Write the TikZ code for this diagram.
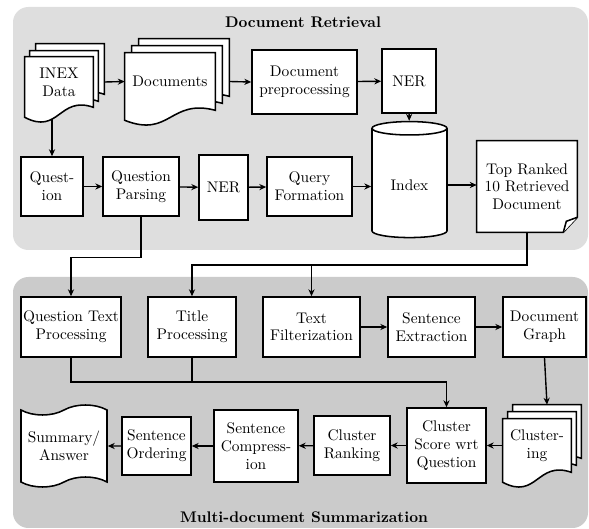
\documentclass[tikz,border=0pt]{standalone}
\usetikzlibrary{shapes.geometric,shapes.symbols,arrows.meta,calc,backgrounds}
\definecolor{retrievalgray}{HTML}{DEDEDE}
\definecolor{summarygray}{HTML}{CBCBCB}
\tikzset{
	box/.style={draw, fill=white, line width=1pt, align=center, inner sep=1pt},
	txt/.style={align=center, inner sep=1pt},
	sheet/.style={draw, fill=white, line width=1pt},
	flow/.style={-{Stealth[length=4.5pt,width=4pt]}, line width=0.9pt},
	link/.style={line width=0.9pt},
	sz/.style 2 args={minimum width=#1*0.65pt, minimum height=#2*0.65pt},
}
\newcommand\docsheet[3]{%
	\draw[sheet] ([shift={(#2,#3)}]#1.north west) -- ([shift={(#2,#3)}]#1.north east)
		-- ([shift={(#2,#3)}]#1.south east)
		.. controls ([shift={(#2,#3-12)}]#1.south) and ([shift={(#2,#3+28)}]#1.south)
		.. ([shift={(#2,#3+10)}]#1.south west) -- cycle;
}
\begin{document}
\begin{tikzpicture}[x=0.65pt, y=-0.65pt, font=\fontsize{10}{11.5}\selectfont]
	\useasboundingbox (0,0) rectangle (589,529);
	\node[font=\bfseries] (dr) at (303,22) {Document Retrieval};
	\node[font=\bfseries] (ms) at (304,517) {Multi-document Summarization};
	\node[txt, sz={68}{50}] (inex) at (59,82) {INEX\\Data};
	\node[txt, sz={90}{57}] (docs) at (170,81.5) {Documents};
	\node[box, sz={105}{64}] (prep) at (304.5,82) {Document\\preprocessing};
	\node[box, sz={54}{64}] (nerdoc) at (409,81) {NER};
	\node[cylinder, shape border rotate=90, aspect=0.28, draw, fill=white, line width=1pt, sz={75}{116}] (index) at (409.5,185) {Index};
	\node[txt, sz={100}{91}] (top) at (527,186.5) {Top Ranked\\10 Retrieved\\Document};
	\node[box, sz={62}{59}] (quest) at (52,186.5) {Quest-\\ion};
	\node[box, sz={76}{59}] (parse) at (141,186.5) {Question\\Parsing};
	\node[box, sz={49}{65}] (nerq) at (223.5,187.5) {NER};
	\node[box, sz={85}{59}] (query) at (309.5,186.5) {Query\\Formation};
	\node[box, sz={100}{60}] (qtext) at (71,327) {Question Text\\Processing};
	\node[box, sz={88}{60}] (title) at (192,327) {Title\\Processing};
	\node[box, sz={97}{60}] (filter) at (311.5,327) {Text\\Filterization};
	\node[box, sz={87}{60}] (extract) at (431.5,327) {Sentence\\Extraction};
	\node[box, sz={83}{60}] (graph) at (544.5,327) {Document\\Graph};
	\node[txt, sz={68}{53}] (clus) at (537,445.5) {Cluster-\\ing};
	\node[box, sz={79}{75}] (score) at (446.5,445.5) {Cluster\\Score wrt\\Question};
	\node[box, sz={76}{59}] (rank) at (352,445.5) {Cluster\\Ranking};
	\node[box, sz={84}{72}] (compress) at (256,446) {Sentence\\Compress-\\ion};
	\node[box, sz={69}{58}] (order) at (156.5,446) {Sentence\\Ordering};
	\node[tape, draw, fill=white, line width=1pt, align=center, sz={86}{82}, tape bend height=6.5pt] (answer) at (64,446) {Summary/\\Answer};
	\coordinate (tb) at (0,265);
	\coordinate (qb) at (0,382);
	\draw[flow] ([shift={(11,0)}]inex.east) -- (docs.west);
	\draw[flow] ([shift={(14,0)}]docs.east) -- (prep.west);
	\draw[flow] (prep) -- (nerdoc);
	\draw[flow] (nerdoc) -- (index);
	\draw[flow] (index.east) -- (index.east -| top.west);
	\draw[flow] ($(quest.north |- inex.south)+(0,12)$) -- (quest.north);
	\draw[flow] (quest) -- (parse);
	\draw[flow] (parse) -- (nerq);
	\draw[flow] (nerq) -- (query);
	\draw[flow] (query.east) -- (query.east -| index.west);
	\draw[flow] (parse.south) -- ++(0,41) -| (qtext.north);
	\draw[flow] (top.south) |- (title.north |- tb) -- (title.north);
	\draw[flow] (filter.north |- tb) -- (filter.north);
	\draw[flow] (filter) -- (extract);
	\draw[flow] (extract) -- (graph);
	\draw[flow] (graph.south) -- ([shift={(10,-14)}]clus.north);
	\draw[flow] (qtext.south) |- (score.north |- qb) -- (score.north);
	\draw[link] (title.south) -- (title.south |- qb);
	\draw[flow] (clus) -- (score);
	\draw[flow] (score) -- (rank);
	\draw[flow] (rank) -- (compress);
	\draw[flow] (compress) -- (order);
	\draw[flow] (order) -- (answer);
	\begin{pgfonlayer}{background}
		\fill[retrievalgray, rounded corners=10pt] (13,7) rectangle (588,250);
		\fill[summarygray, rounded corners=10pt] (13,277) rectangle (588,528);
		\docsheet{inex}{11}{-13}
		\docsheet{inex}{5}{-6}
		\docsheet{inex}{0}{0}
		\docsheet{docs}{14}{-14}
		\docsheet{docs}{7}{-7}
		\docsheet{docs}{0}{0}
		\docsheet{clus}{10}{-14}
		\docsheet{clus}{5}{-7}
		\docsheet{clus}{0}{0}
		\draw[sheet] (top.north west) -- (top.north east) -- ([shift={(0,-15)}]top.south east)
			-- ([shift={(-14,0)}]top.south east) -- (top.south west) -- cycle;
		\draw[sheet] ([shift={(-14,0)}]top.south east) -- ([shift={(-11,-11)}]top.south east)
			-- ([shift={(0,-15)}]top.south east);
	\end{pgfonlayer}
\end{tikzpicture}
\end{document}
